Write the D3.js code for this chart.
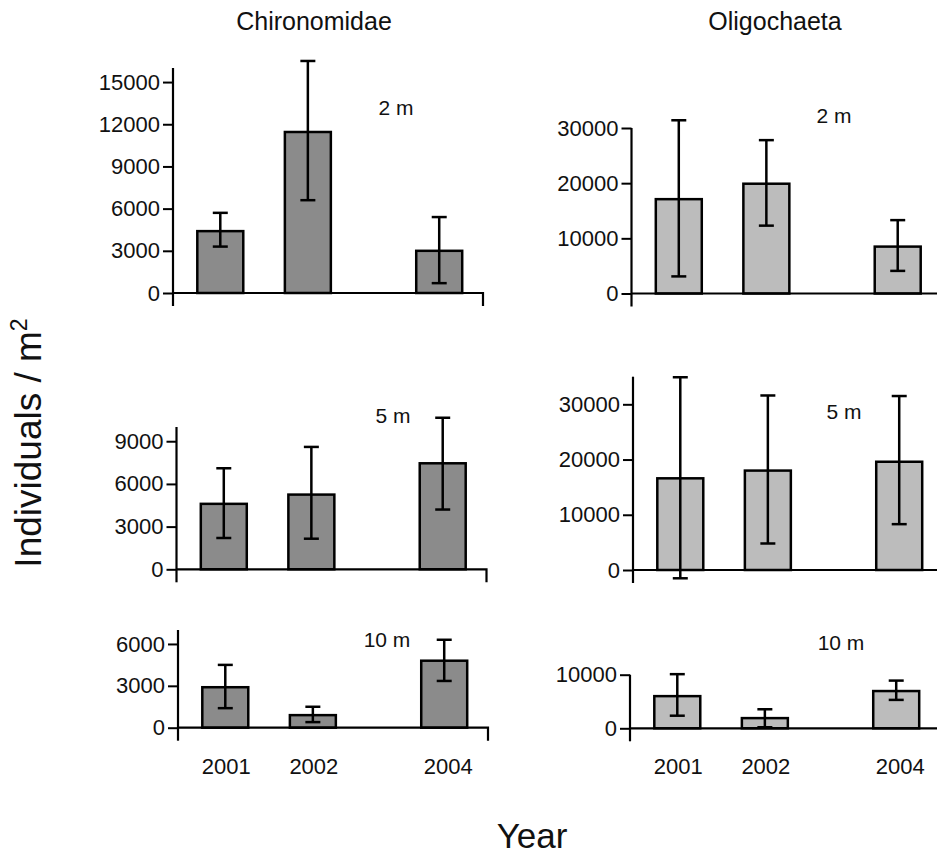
<!DOCTYPE html>
<html>
<head>
<meta charset="utf-8">
<script src="https://cdn.jsdelivr.net/npm/d3@7"></script>
<style>
  body { margin: 0; background: #fff; }
  text { font-family: "Liberation Sans", Arial, sans-serif; fill: #111; }
</style>
</head>
<body>
<svg id="chart"></svg>
<script>
// categories
const years = ['2001', '2002', '2004'];
const yearSlots = [0, 1, 2.5];   // 2003 missing, so 2004 sits one and a half slots on
const depths = ['2 m', '5 m', '10 m'];
const taxa = ['Chironomidae', 'Oligochaeta'];

// Chironomidae, individuals / m2 (mean, lower and upper end of the error bar)
const chiro2mMean = [4400, 11450, 3000];
const chiro2mLo   = [3300, 6600, 700];
const chiro2mHi   = [5700, 16500, 5400];
const chiro5mMean = [4600, 5250, 7450];
const chiro5mLo   = [2200, 2150, 4200];
const chiro5mHi   = [7100, 8600, 10650];
const chiro10mMean = [2900, 900, 4800];
const chiro10mLo   = [1400, 400, 3350];
const chiro10mHi   = [4500, 1500, 6300];

// Oligochaeta
const oligo2mMean = [17100, 19900, 8500];
const oligo2mLo   = [3100, 12300, 4100];
const oligo2mHi   = [31400, 27800, 13300];
const oligo5mMean = [16600, 18000, 19600];
const oligo5mLo   = [-1500, 4800, 8300];
const oligo5mHi   = [34900, 31600, 31500];
const oligo10mMean = [6000, 1900, 6950];
const oligo10mLo   = [2350, 200, 5300];
const oligo10mHi   = [10100, 3550, 8900];

// y ticks and axis tops
const chiroTicks = [[0, 3000, 6000, 9000, 12000, 15000], [0, 3000, 6000, 9000], [0, 3000, 6000]];
const oligoTicks = [[0, 10000, 20000, 30000], [0, 10000, 20000, 30000], [0, 10000]];
const chiroMax = [16000, 10000, 7000];
const oligoMax = [30000, 35000, 10000];

// layout (pixels)
const width = 937, height = 854;
const axisXs = [[173, 176.5, 178], [631.5, 633, 630]];
const zeroYs = [[293, 569.3, 727.7], [293.5, 570, 728.3]];
const topYs  = [[68, 427, 630], [128, 376.7, 674.7]];
const depthLabelPos = [[[396, 115], [393, 423], [387, 647]], [[834, 123], [844, 419], [841, 650]]];
const fills = ['#8b8b8b', '#bcbcbc'];
const axisLen = 310, barSpan = 0.525, capW = 15, overhang = 13;

const svg = d3.select('#chart').attr('width', width).attr('height', height);

const means = [[chiro2mMean, chiro5mMean, chiro10mMean], [oligo2mMean, oligo5mMean, oligo10mMean]];
const los = [[chiro2mLo, chiro5mLo, chiro10mLo], [oligo2mLo, oligo5mLo, oligo10mLo]];
const his = [[chiro2mHi, chiro5mHi, chiro10mHi], [oligo2mHi, oligo5mHi, oligo10mHi]];
const ticks = [chiroTicks, oligoTicks];
const maxes = [chiroMax, oligoMax];

taxa.forEach((taxon, c) => {
  depths.forEach((depth, r) => {
    const x0 = axisXs[c][r], y0 = zeroYs[c][r];
    const x = d3.scaleLinear().domain([-0.54, 3.0]).range([x0, x0 + axisLen]);
    const y = d3.scaleLinear().domain([0, maxes[c][r]]).range([y0, topYs[c][r]]);
    const bw = x(barSpan) - x(0);
    const rows = years.map((yr, i) => ({
      year: yr, slot: yearSlots[i], mean: means[c][r][i], lo: los[c][r][i], hi: his[c][r][i]
    }));

    const g = svg.append('g').attr('class', 'panel');

    // bars
    g.selectAll('.bar').data(rows)
      .join('rect')
      .attr('class', 'bar')
      .attr('x', d => x(d.slot) - bw / 2)
      .attr('y', d => y(d.mean))
      .attr('width', bw)
      .attr('height', d => y(0) - y(d.mean))
      .style('fill', fills[c])
      .style('stroke', '#000')
      .style('stroke-width', 2.5);

    // axis lines, both running a little past the corner
    g.append('line')
      .attr('x1', x0).attr('x2', x0)
      .attr('y1', y(maxes[c][r])).attr('y2', y0 + overhang)
      .style('stroke', '#000').style('stroke-width', 2.2);
    g.append('path')
      .attr('d', `M${x0},${y0}H${x(3.0)}V${y0 + overhang}`)
      .style('fill', 'none').style('stroke', '#000').style('stroke-width', 2.2);

    const yAxis = g.append('g')
      .attr('transform', `translate(${x0},0)`)
      .call(d3.axisLeft(y).tickValues(ticks[c][r]).tickSize(10).tickPadding(3).tickFormat(d3.format('d')));
    yAxis.select('.domain').remove();
    yAxis.selectAll('.tick line').style('stroke', '#000').style('stroke-width', 2);
    yAxis.selectAll('.tick text')
      .style('font-size', '22px')
      .style('font-family', '"Liberation Sans", Arial, sans-serif')
      .style('fill', '#111');

    // error bars
    const err = g.selectAll('.err').data(rows).join('g').attr('class', 'err')
      .style('stroke', '#000').style('stroke-width', 2.5);
    err.append('line')
      .attr('x1', d => x(d.slot)).attr('x2', d => x(d.slot))
      .attr('y1', d => y(d.hi)).attr('y2', d => y(d.lo));
    err.append('line')
      .attr('x1', d => x(d.slot) - capW / 2).attr('x2', d => x(d.slot) + capW / 2)
      .attr('y1', d => y(d.hi)).attr('y2', d => y(d.hi));
    err.append('line')
      .attr('x1', d => x(d.slot) - capW / 2).attr('x2', d => x(d.slot) + capW / 2)
      .attr('y1', d => y(d.lo)).attr('y2', d => y(d.lo));

    // depth label
    g.append('text')
      .attr('x', depthLabelPos[c][r][0]).attr('y', depthLabelPos[c][r][1])
      .attr('text-anchor', 'middle')
      .style('font-size', '21px')
      .text(depth);

    // year labels under the bottom row
    if (r === depths.length - 1) {
      g.selectAll('.yearLabel').data(rows)
        .join('text')
        .attr('class', 'yearLabel')
        .attr('x', d => x(d.slot) + (d.slot > 2 ? 4 : 1))
        .attr('y', 774)
        .attr('text-anchor', 'middle')
        .style('font-size', '22px')
        .text(d => d.year);
    }
  });
});

// titles
svg.selectAll('.title').data(taxa)
  .join('text')
  .attr('class', 'title')
  .attr('x', (d, i) => [314, 775][i])
  .attr('y', 30)
  .attr('text-anchor', 'middle')
  .style('font-size', '25px')
  .text(d => d);

// y label
const yl = svg.append('text')
  .attr('transform', 'translate(41,443) rotate(-90)')
  .attr('text-anchor', 'middle')
  .style('font-size', '37px');
yl.append('tspan').text('Individuals / m');
yl.append('tspan').attr('dy', -14).style('font-size', '23px').text('2');

// x label
svg.append('text')
  .attr('x', 532).attr('y', 848)
  .attr('text-anchor', 'middle')
  .style('font-size', '35px')
  .text('Year');
</script>
</body>
</html>
